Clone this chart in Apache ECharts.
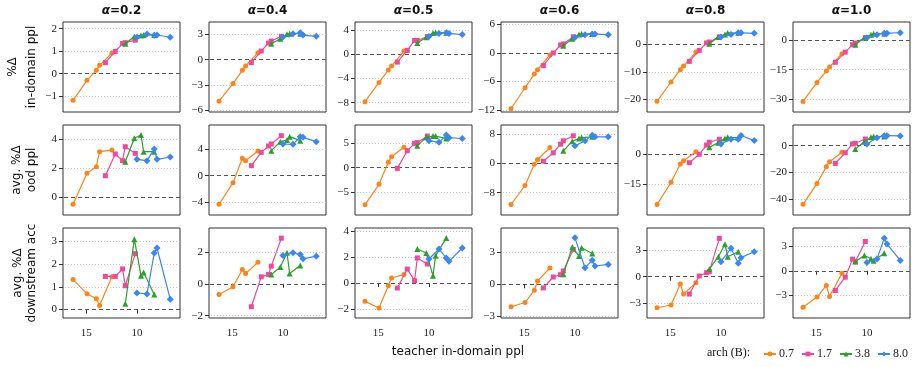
<!DOCTYPE html>
<html>
<head>
<meta charset="utf-8">
<script src="https://cdn.jsdelivr.net/npm/echarts@6/dist/echarts.min.js"></script>
<style>
  html, body { margin: 0; padding: 0; background: #fff; }
  #chart { width: 916px; height: 367px; }
</style>
</head>
<body>
<div id="chart"></div>
<script>
// columns (alpha) and student sizes
var alphas = ['0.2', '0.4', '0.5', '0.6', '0.8', '1.0']
var archNames = ['0.7', '1.7', '3.8', '8.0']

// teacher in-domain ppl for each student size
var pplOrange = [16.31, 14.93, 14.01, 13.69, 12.47]
var pplPink = [13.12, 12.14, 11.42, 11.15, 10.16]
var pplGreen = [11.15, 10.26, 9.6, 9.34, 8.29]
var pplBlue = [10.0, 9.01, 8.29, 8.02, 6.71]
var xTicks = [10, 15]

// row 1: %Δ in-domain ppl (one list per alpha)
var inDomOrange = [[-1.19, -0.30, 0.15, 0.37, 0.92], [-4.92, -2.83, -1.26, -0.75, 0.83], [-7.84, -4.64, -2.6, -1.93, 0.55], [-11.7, -7.3, -4.4, -3.5, -0.4], [-20.7, -13.7, -9.2, -7.9, -2.8], [-31.2, -21.5, -15.7, -13.6, -6.8]]
var inDomPink = [[0.49, 0.99, 1.34, 1.38, 1.49], [-0.35, 1.02, 1.97, 2.2, 2.76], [-1.27, 0.66, 2.32, 2.32, 2.98], [-2.65, 0, 1.67, 1.9, 3.4], [-6.2, -2.2, 0.5, 0.85, 2.7], [-11.2, -6.0, -2.2, -1.4, 1.4]]
var inDomGreen = [[1.33, 1.65, 1.70, 1.72, 1.72], [1.89, 2.48, 3.0, 3.07, 3.07], [1.88, 2.87, 3.54, 3.65, 3.6], [1.5, 3.0, 3.9, 4.0, 4.0], [0.24, 2.67, 3.6, 4.1, 4.2], [-2.2, 1.4, 2.9, 3.4, 3.4]]
var inDomBlue = [[1.62, 1.77, 1.71, 1.72, 1.62], [2.68, 3.07, 3.19, 2.91, 2.76], [2.98, 3.48, 3.6, 3.48, 3.3], [3.25, 3.8, 4.0, 4.0, 3.8], [2.67, 3.6, 4.2, 4.2, 4.0], [1.4, 2.9, 3.7, 3.7, 3.9]]
var inDomRange = [[-1.71, 2.30], [-6.2, 4.46], [-9.55, 5.38], [-12.38, 6.5], [-24.6, 8.12], [-36.6, 9.4]]
var inDomTicks = [[-1, 0, 1, 2], [-6, -3, 0, 3], [-8, -4, 0, 4], [-12, -6, 0, 6], [-20, -10, 0], [-30, -15, 0]]

// row 2: avg. %Δ ood ppl
var oodOrange = [[-0.48, 1.66, 2.11, 3.15, 3.26], [-4.3, -1.05, 2.6, 2.25, 3.7], [-7.6, -3.42, 1.1, 2.26, 4.18], [-11.24, -6.03, -0.18, 1.1, 4.39], [-24.9, -14.0, -4.9, -3.3, 1.15], [-44, -28.3, -15.8, -12, -5]]
var oodPink = [[1.49, 2.99, 2.53, 3.49, 3.03], [1.5, 3.5, 4.45, 4.75, 6.0], [-0.14, 3.49, 5.0, 5.14, 6.5], [0.64, 2.92, 5.3, 6.22, 7.59], [-4.3, -0.16, 4.4, 5.8, 7.25], [-13.3, -5.3, 1.3, 1.8, 5]]
var oodGreen = [[2.46, 4.07, 4.30, 3.15, 3.15], [3.75, 5.1, 5.35, 5.85, 5.25], [4.52, 6.23, 6.5, 6.5, 6.0], [3.47, 6.13, 6.86, 7.13, 7.31], [3.3, 5.6, 7.7, 8.2, 8.1], [-2.5, 3, 6.3, 6.8, 6.8]]
var oodBlue = [[2.62, 2.53, 3.33, 2.62, 2.78], [4.75, 4.7, 5.85, 5.75, 5.1], [5.55, 5.2, 6.7, 6.16, 6.0], [4.84, 6.22, 7.77, 7.31, 7.31], [4.9, 7.25, 7.25, 9.1, 6.6], [1.3, 6, 7.5, 7.5, 7.3]]
var oodRange = [[-1.22, 4.99], [-5.9, 7.6], [-9.73, 8.77], [-14.12, 10.56], [-30.1, 14.3], [-52, 15.5]]
var oodTicks = [[0, 2, 4], [-4, 0, 4], [-5, 0, 5], [-8, 0, 8], [-15, 0], [-40, -20, 0]]

// row 3: avg. %Δ downstream acc
var accOrange = [[1.32, 0.70, 0.48, 0.18, 1.45], [-0.67, -0.19, 0.9, 0.65, 1.35], [-1.42, -1.94, -0.21, 0.39, 0.65], [-2.11, -1.71, -0.56, 0.31, 1.52], [-3.54, -3.23, -0.84, -1.98, -0.68], [-4.45, -3.22, -1.8, -3.14, -0.29]]
var accPink = [[1.46, 1.46, 1.79, 1.05, 2.46], [-1.44, 0.44, 0.59, 1.11, 2.87], [-0.39, 1.08, 0.18, 1.94, 1.47], [-0.34, 0.68, 0.9, 1.24, 3.26], [-1.98, 0.08, 0.46, 0.57, 4.37], [-2.41, -0.78, 1.43, 1.1, 3.59]]
var accGreen = [[0.26, 3.10, 1.49, 1.63, 0.66], [0.59, 1.05, 1.95, 0.65, 1.15], [2.63, 2.32, 0.57, 2.12, 3.48], [0.93, 3.48, 2.64, 3.42, 2.89], [0.87, 2.28, 3.69, 2.28, 2.85], [1.14, 1.88, 1.47, 1.22, 2.16]]
var accBlue = [[0.73, 0.69, 2.49, 2.71, 0.45], [1.78, 1.95, 1.84, 1.57, 1.74], [1.86, 2.63, 1.94, 1.68, 2.71], [4.35, 1.55, 2.24, 1.71, 1.86], [1.71, 3.23, 1.52, 2.17, 2.85], [1.02, 1.43, 4.0, 3.27, 1.27]]
var accRange = [[-0.37, 3.59], [-2.15, 3.51], [-2.71, 4.26], [-3.16, 5.27], [-4.71, 5.55], [-5.78, 5.24]]
var accTicks = [[0, 1, 2, 3], [-2, 0, 2], [-2, 0, 2, 4], [-3, 0, 3], [-3, 0, 3], [-3, 0, 3]]

var colors = ['#ff8418', '#f0489a', '#2ca02c', '#3a86f5']
var symbols = ['circle', 'rect', 'triangle', 'diamond']
var symbolSizes = [5, 5, 6, 7]
var pplLists = [pplOrange, pplPink, pplGreen, pplBlue]

var rows = [
  { lines: ['%Δ', 'in-domain ppl'], lineX: [13, 32], range: inDomRange, ticks: inDomTicks, ys: [inDomOrange, inDomPink, inDomGreen, inDomBlue] },
  { lines: ['avg. %Δ', 'ood ppl'], lineX: [17, 32], range: oodRange, ticks: oodTicks, ys: [oodOrange, oodPink, oodGreen, oodBlue] },
  { lines: ['avg. %Δ', 'downstream acc'], lineX: [18, 32], range: accRange, ticks: accTicks, ys: [accOrange, accPink, accGreen, accBlue] }
]

var gridLefts = [63, 209, 355, 501, 647, 793]
var gridTops = [22, 125, 228]
var gridW = 117
var gridH = 90
var serif = 'Liberation Serif'
var sans = 'DejaVu Sans'

function minus(v) {
  return String(v).replace('-', '\u2212')
}

var grids = []
var xAxes = []
var yAxes = []
var series = []
var graphics = []
var titles = []

rows.forEach(function(row, r) {
  alphas.forEach(function(a, c) {
    var idx = grids.length
    var bottomRow = r === rows.length - 1
    grids.push({
      left: gridLefts[c], top: gridTops[r], width: gridW, height: gridH,
      show: true, borderColor: '#333', borderWidth: 1, backgroundColor: 'transparent'
    })
    xAxes.push({
      type: 'value', gridIndex: idx, min: 5.75, max: 17.3, inverse: true,
      axisLine: { show: false },
      splitLine: { show: false },
      axisTick: { show: bottomRow, customValues: xTicks, length: 4, lineStyle: { color: '#333' } },
      axisLabel: { show: bottomRow, customValues: xTicks, margin: 10, fontFamily: serif, fontSize: 11, color: '#222' }
    })
    var ticks = row.ticks[c]
    yAxes.push({
      type: 'value', gridIndex: idx, min: row.range[c][0], max: row.range[c][1],
      axisLine: { show: false },
      splitLine: { show: false },
      axisTick: { show: true, customValues: ticks, length: 4, lineStyle: { color: '#333' } },
      axisLabel: { customValues: ticks, margin: 6, fontFamily: serif, fontSize: 11, color: '#222', formatter: minus }
    })
    archNames.forEach(function(name, s) {
      var xs = pplLists[s]
      var ys = row.ys[s][c]
      var item = {
        name: name,
        type: 'line',
        xAxisIndex: idx,
        yAxisIndex: idx,
        data: xs.map(function(x, i) { return [x, ys[i]] }),
        symbol: symbols[s],
        symbolSize: symbolSizes[s],
        showAllSymbol: true,
        color: colors[s],
        lineStyle: { width: 1.2, color: colors[s] },
        itemStyle: { color: colors[s] },
        z: 2 + s,
        animation: false
      }
      if (s === 0) {
        // grid lines + dashed zero line
        item.markLine = {
          silent: true,
          symbol: ['none', 'none'],
          z: 1,
          animation: false,
          label: { show: false },
          data: ticks.map(function(t) {
            return {
              yAxis: t,
              lineStyle: t === 0
                ? { type: [4, 3], color: '#555', width: 1 }
                : { type: [1, 2], color: '#bbb', width: 0.8 }
            }
          })
        }
      }
      series.push(item)
    })
  })
  // y-axis names
  var cy = gridTops[r] + gridH / 2
  row.lines.forEach(function(txt, k) {
    graphics.push({
      type: 'text', x: row.lineX[k], y: cy, rotation: Math.PI / 2,
      style: { text: txt, font: '12px "DejaVu Sans"', fill: '#111', align: 'center', verticalAlign: 'middle' }
    })
  })
})

alphas.forEach(function(a, c) {
  titles.push({
    text: '{i|α}=' + a,
    left: gridLefts[c] + gridW / 2,
    top: 5,
    textAlign: 'center',
    padding: 0,
    textStyle: {
      fontFamily: sans, fontSize: 12, fontWeight: 'bold', color: '#111',
      rich: { i: { fontFamily: sans, fontSize: 12, fontStyle: 'italic', fontWeight: 'bold', color: '#111' } }
    }
  })
})

graphics.push({
  type: 'text', x: 458, y: 352,
  style: { text: 'teacher in-domain ppl', font: '12px "DejaVu Sans"', fill: '#111', align: 'center', verticalAlign: 'middle' }
})
graphics.push({
  type: 'text', x: 707, y: 353,
  style: { text: 'arch (B):', font: '12px "Liberation Serif"', fill: '#111', align: 'left', verticalAlign: 'middle' }
})

var myChart = echarts.init(document.getElementById('chart'), null, { renderer: 'canvas' })
var option = {
  backgroundColor: '#fff',
  animation: false,
  title: titles,
  grid: grids,
  xAxis: xAxes,
  yAxis: yAxes,
  legend: {
    data: archNames,
    left: 758,
    top: 343,
    itemWidth: 12,
    itemHeight: 6,
    itemGap: 7,
    textStyle: { fontFamily: serif, fontSize: 12, color: '#222', padding: [0, 0, 0, -2] }
  },
  graphic: graphics,
  series: series
}
myChart.setOption(option, true)
window.addEventListener('resize', () => {
  myChart.resize()
})
</script>
</body>
</html>
